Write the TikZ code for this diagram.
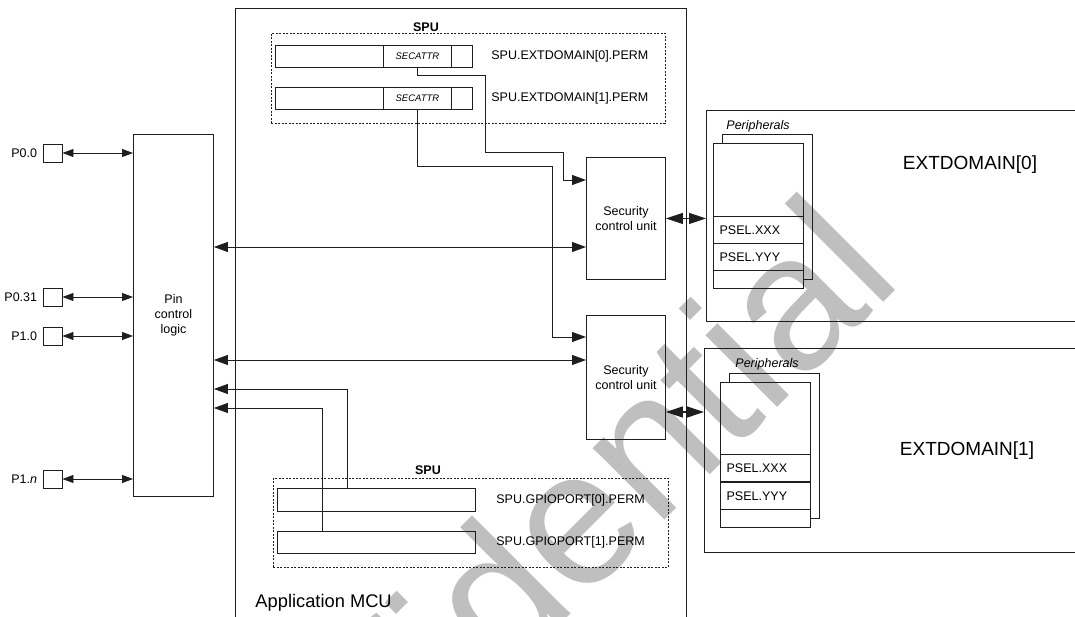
\documentclass[tikz,border=0pt]{standalone}
\usepackage{fontspec}
\setmainfont{Liberation Sans}
\usepackage{tikz}
\usetikzlibrary{positioning,arrows.meta,calc}
\definecolor{wmgray}{RGB}{191,191,191}
\definecolor{ink}{RGB}{30,30,30}

\begin{document}
\begin{tikzpicture}[x=1pt, y=-1pt, line width=0.9pt, draw=ink,
  font=\fontsize{12.5}{15}\selectfont,
  blk/.style={draw, inner sep=0pt, anchor=north west, align=center},
  spubox/.style={draw, dash pattern=on 2pt off 1.5pt, inner sep=0pt, anchor=north west},
  pinsq/.style={draw, inner sep=0pt, minimum width=19pt, minimum height=18pt},
  psel/.style={draw, line width=1.3pt, anchor=north west, inner xsep=6pt, inner ysep=0pt, text width=78pt, minimum height=27pt, align=left},
  lbl/.style={inner sep=0pt},
  arr/.style={-{Triangle[length=14pt,width=10pt]}},
  dbl/.style={{Triangle[length=14pt,width=10pt]}-{Triangle[length=14pt,width=10pt]}},
  pinarr/.style={{Triangle[length=11pt,width=8pt]}-{Triangle[length=11pt,width=8pt]}},
  link/.style={{Triangle[length=17pt,width=11pt]}-{Triangle[length=17pt,width=11pt]}, line width=1.2pt}
]
\useasboundingbox (0,0) rectangle (1075,617);
\node[rotate=45, anchor=base west, inner sep=0pt, text=wmgray, font=\fontsize{192}{192}\selectfont] (wm) at (187,998) {Confidential};

\node[blk, minimum width=451pt, minimum height=640pt] (mcu) at (235,8) {};
\node[lbl, anchor=base west, font=\fontsize{18.3}{20}\selectfont] (mculbl) at (255,607) {Application MCU};
\node[blk, minimum width=400pt, minimum height=211pt] (ext0) at (706,110) {};
\node[blk, minimum width=400pt, minimum height=204pt] (ext1) at (704,348) {};
\node[lbl, font=\fontsize{19}{21}\selectfont] (ext0lbl) at (970,165) {EXTDOMAIN[0]};
\node[lbl, font=\fontsize{19}{21}\selectfont] (ext1lbl) at (967,451) {EXTDOMAIN[1]};

\node[blk, minimum width=80pt, minimum height=362pt] (pcl) at (133,134) {Pin\\control\\logic};
\node[blk, minimum width=79pt, minimum height=122pt, font=\fontsize{12.5}{14.5}\selectfont] (scu0) at (586,157) {Security\\control unit};
\node[blk, minimum width=79pt, minimum height=124pt, font=\fontsize{12.5}{14.5}\selectfont] (scu1) at (586,315) {Security\\control unit};

\node[pinsq] (p00) at (52.5,153) {};
\node[pinsq] (p031) at (52.5,297) {};
\node[pinsq] (p10) at (52.5,336) {};
\node[pinsq] (p1n) at (52.5,479) {};
\node[lbl, left=5pt of p00] {P0.0};
\node[lbl, left=5pt of p031] {P0.31};
\node[lbl, left=5pt of p10] {P1.0};
\node[lbl, left=5pt of p1n] {P1.\textit{n}};

\node[spubox, minimum width=394pt, minimum height=90pt] (spuA) at (271,33) {};
\node[lbl, font=\fontsize{12.5}{15}\bfseries] at (426,27) {SPU};
\node[blk, minimum width=197pt, minimum height=22pt] (regA0) at (275,45) {};
\node[blk, minimum width=197pt, minimum height=22pt] (regA1) at (275,87) {};
\node[blk, minimum width=68pt, minimum height=22pt, font=\fontsize{9.5}{11}\itshape] (secA0) at (383,45) {SECATTR};
\node[blk, minimum width=68pt, minimum height=22pt, font=\fontsize{9.5}{11}\itshape] (secA1) at (383,87) {SECATTR};
\node[lbl, right=18pt of regA0] {SPU.EXTDOMAIN[0].PERM};
\node[lbl, right=18pt of regA1] {SPU.EXTDOMAIN[1].PERM};

\node[spubox, minimum width=395pt, minimum height=89pt] (spuB) at (273,478) {};
\node[lbl, font=\fontsize{12.5}{15}\bfseries] at (428,470) {SPU};
\node[blk, minimum width=198pt, minimum height=23pt] (regB0) at (277,488) {};
\node[blk, minimum width=198pt, minimum height=22pt] (regB1) at (277,531) {};
\node[lbl, right=20pt of regB0] {SPU.GPIOPORT[0].PERM};
\node[lbl, right=20pt of regB1] {SPU.GPIOPORT[1].PERM};

\node[blk, minimum width=90pt, minimum height=145pt] (perA0) at (713,143) {};
\draw ($(perA0.north west)+(9,0)$) -- ++(0,-9) -| ($(perA0.south east)+(9,-9)$) -- ++(-9,0);
\node[lbl, anchor=west, font=\fontsize{12.5}{15}\itshape] at (726,126) {Peripherals};
\node[psel] (pselA0) at (713,216) {PSEL.XXX};
\node[psel] (pselA1) at (713,243) {PSEL.YYY};
\node[blk, minimum width=90pt, minimum height=145pt] (perB0) at (720,382) {};
\draw ($(perB0.north west)+(9,0)$) -- ++(0,-9) -| ($(perB0.south east)+(9,-9)$) -- ++(-9,0);
\node[lbl, anchor=west, font=\fontsize{12.5}{15}\itshape] at (735,364) {Peripherals};
\node[psel] (pselB0) at (720,454) {PSEL.XXX};
\node[psel] (pselB1) at (720,482) {PSEL.YYY};

\coordinate (busA) at (400,247);
\coordinate (busB) at (400,360);
\coordinate (tapB0) at (347,389);
\coordinate (tapB1) at (322,408);
\coordinate (linkB) at (690,412);

\draw[pinarr] (p00) -- (pcl.west |- p00);
\draw[pinarr] (p031) -- (pcl.west |- p031);
\draw[pinarr] (p10) -- (pcl.west |- p10);
\draw[pinarr] (p1n) -- (pcl.west |- p1n);
\draw[dbl] (pcl.east |- busA) -- (scu0.west |- busA);
\draw[dbl] (pcl.east |- busB) -- (scu1.west |- busB);
\draw[arr] (tapB0 |- regB0.north) |- (pcl.east |- tapB0);
\draw[arr] (tapB1 |- regB1.north) |- (pcl.east |- tapB1);
\draw[arr] (secA0.south) |- (485,75) |- (563,152) |- ($(scu0.north west)+(0,23)$);
\draw[arr] (secA1.south) |- (552,166) |- ($(scu1.north west)+(0,22)$);
\draw[link] (scu0.east) -- (scu0.east -| ext0.west);
\draw[link] (scu1.east |- linkB) -- (ext1.west |- linkB);
\end{tikzpicture}
\end{document}
